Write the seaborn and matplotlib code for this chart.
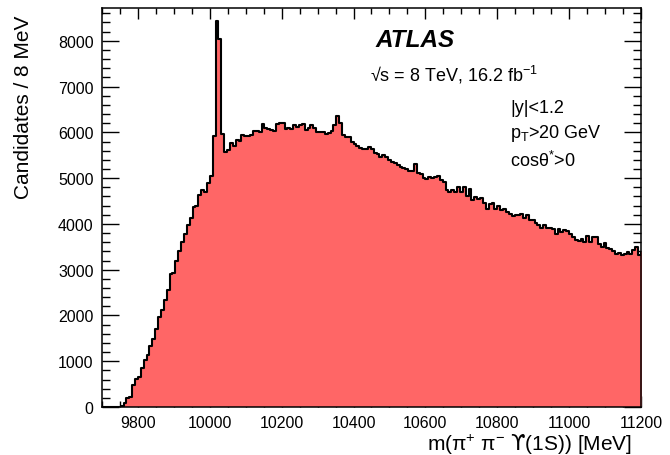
import matplotlib
matplotlib.use("Agg")
import matplotlib.pyplot as plt
from matplotlib.ticker import MultipleLocator
import pandas as pd
import seaborn as sns

# candidates per 8 MeV bin
first_edge = 9704
bin_width = 8
counts = [
    0, 0, 0, 0, 0, 10, 30, 95, 200, 220,
    470, 620, 660, 860, 1030, 1130, 1330, 1480, 1710, 1970,
    2120, 2340, 2560, 2900, 2930, 3190, 3410, 3610, 3775, 3970,
    4120, 4360, 4400, 4640, 4740, 4700, 4890, 5045, 5920, 8440,
    8040, 5960, 5560, 5615, 5760, 5700, 5830, 5810, 5935, 5910,
    5920, 5940, 6030, 6040, 6000, 6190, 6100, 6080, 6050, 6030,
    6190, 6210, 6210, 6070, 6100, 6068, 6163, 6120, 6163, 6193,
    6047, 6090, 6163, 6090, 6000, 6000, 6000, 5960, 5980, 6030,
    6150, 6360, 6214, 5945, 5900, 5890, 5800, 5755, 5705, 5655,
    5630, 5630, 5680, 5635, 5545, 5520, 5470, 5500, 5470, 5400,
    5354, 5340, 5280, 5250, 5230, 5193, 5157, 5157, 5303, 5120,
    5084, 5011, 4989, 5033, 5011, 5033, 5047, 4960, 4916, 4741,
    4697, 4741, 4697, 4800, 4697, 4814, 4610, 4756, 4522, 4595,
    4551, 4573, 4449, 4333, 4427, 4464, 4333, 4391, 4303, 4318,
    4260, 4209, 4172, 4187, 4187, 4209, 4136, 4187, 4085, 4085,
    4012, 3968, 3917, 3968, 3920, 3903, 3880, 3786, 3880, 3822,
    3858, 3844, 3771, 3713, 3640, 3625, 3661, 3610, 3735, 3610,
    3713, 3720, 3567, 3494, 3589, 3479, 3443, 3406, 3333, 3370,
    3319, 3333, 3392, 3333, 3430, 3494, 3319, 3392,
]

edges = [first_edge + bin_width * i for i in range(len(counts) + 1)]
centers = [e + bin_width / 2 for e in edges[:-1]]
df = pd.DataFrame({"mass": centers, "candidates": counts})

sns.set_style("ticks")
plt.rcParams["font.family"] = ["Liberation Sans", "DejaVu Sans"]
plt.rcParams["mathtext.fontset"] = "custom"
plt.rcParams["mathtext.rm"] = "Liberation Sans"
plt.rcParams["mathtext.it"] = "Liberation Sans:italic"
plt.rcParams["mathtext.sf"] = "DejaVu Sans"
plt.rcParams["mathtext.default"] = "regular"
for key in ["text.color", "axes.labelcolor", "xtick.color", "ytick.color",
            "axes.edgecolor"]:
    plt.rcParams[key] = "black"

fig = plt.figure(figsize=(6.7, 4.56), dpi=100)
ax = fig.add_axes([0.1522, 0.1053, 0.8045, 0.8743])

sns.histplot(data=df, x="mass", weights="candidates", bins=edges,
             element="step", fill=True, color="#ff6666", alpha=1,
             linewidth=0, ax=ax)
sns.histplot(data=df, x="mass", weights="candidates", bins=edges,
             element="step", fill=False, color="black", linewidth=1.5,
             ax=ax)

ax.set_xlim(9700, 11200)
ax.set_ylim(0, 8710)
ax.xaxis.set_major_locator(MultipleLocator(200))
ax.xaxis.set_minor_locator(MultipleLocator(50))
ax.yaxis.set_major_locator(MultipleLocator(1000))
ax.yaxis.set_minor_locator(MultipleLocator(200))
ax.tick_params(which="both", direction="in", top=True, right=True,
               labelsize=11.5, width=1.0)
ax.tick_params(axis="x", which="major", length=8, pad=6)
ax.tick_params(axis="x", which="minor", length=4)
ax.tick_params(axis="y", which="major", length=12, pad=6)
ax.tick_params(axis="y", which="minor", length=6)
for s in ax.spines.values():
    s.set_linewidth(1.1)

ax.set_xlabel(r"m($\pi^{+}$ $\pi^{-}$ $\mathsf{ϒ}$(1S)) [MeV]", fontsize=15,
              loc="right")
ax.xaxis.set_label_coords(0.983, -0.062)
ax.set_ylabel("Candidates / 8 MeV", fontsize=15, loc="top")
ax.yaxis.set_label_coords(-0.128, 0.985)

ax.text(0.508, 0.922, "ATLAS", transform=ax.transAxes, fontsize=17.5,
        fontweight="bold", fontstyle="italic", va="center")
ax.text(0.498, 0.835, "√s = 8 TeV, 16.2 fb$^{-1}$",
        transform=ax.transAxes, fontsize=13, va="center")
ax.text(0.757, 0.752, "|y|<1.2", transform=ax.transAxes, fontsize=13,
        va="center")
ax.text(0.757, 0.688, r"p$_{T}$>20 GeV", transform=ax.transAxes,
        fontsize=13, va="center")
ax.text(0.757, 0.620, r"cos$\theta^{*}$>0", transform=ax.transAxes,
        fontsize=13, va="center")

fig.savefig("out.png", dpi=100)
